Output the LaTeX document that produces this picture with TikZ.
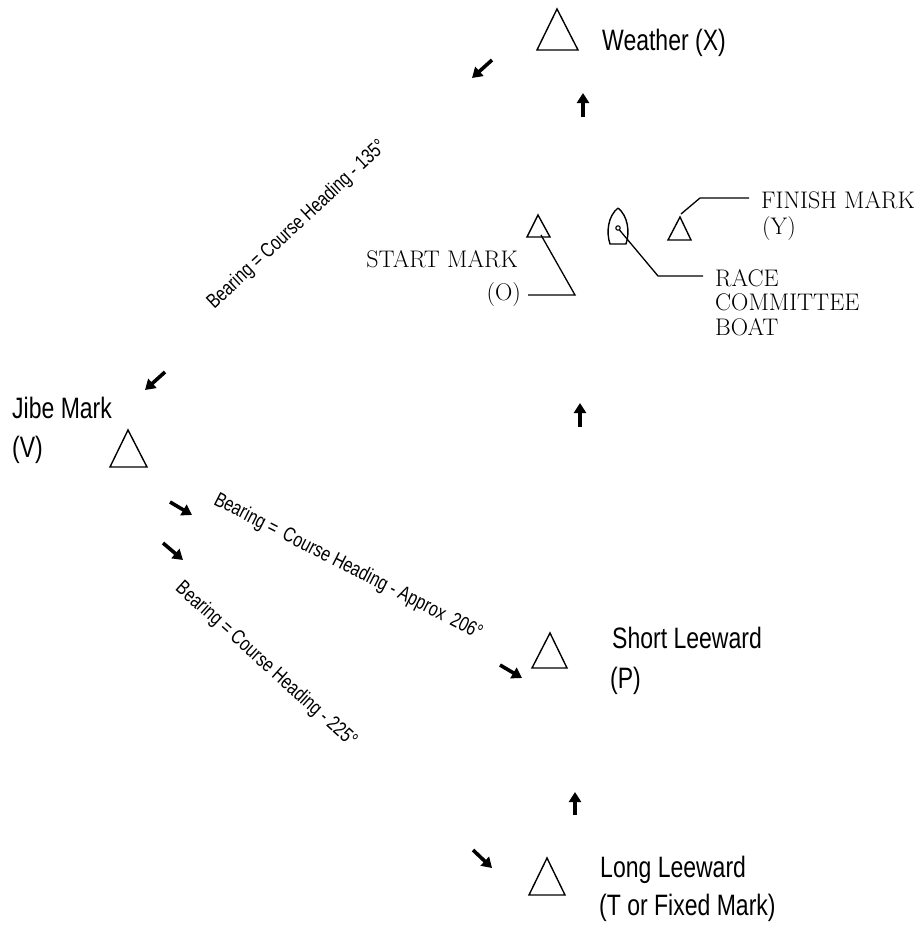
\documentclass[tikz,border=0pt]{standalone}
\usepackage{fontspec}
\usetikzlibrary{arrows.meta}
\newfontfamily\labelfont{Liberation Sans}[FakeStretch=0.78]
\newcommand\sanslab{\labelfont\fontsize{29.5}{30}\selectfont}
\newcommand\bearlab{\labelfont\fontsize{20.5}{21}\selectfont}
\newcommand\serlab{\fontsize{24}{25}\selectfont\addfontfeatures{FakeBold=0.4}}
\begin{document}
\begin{tikzpicture}[x=1pt,y=-1pt,
  markshape/.style={draw=black,line width=1.4pt,line join=miter},
  leader/.style={draw=black,line width=1.3pt},
  bigarrow/.style={line width=3.6pt,-{Triangle[length=10pt,width=12pt]}},
  sl/.style={inner sep=0pt,font=\sanslab},
  bl/.style={inner sep=0pt,font=\bearlab},
  rl/.style={inner sep=0pt,font=\serlab}]
\useasboundingbox (0,0) rectangle (921,926);
\fill[white] (0,0) rectangle (921,926);

% marks (triangles)
\draw[markshape] (557,9) -- (537,50) -- (578,50) -- cycle;      % weather
\draw[markshape] (128,430) -- (110,467) -- (147,467) -- cycle;  % jibe
\draw[markshape] (550,633) -- (532,668) -- (567,668) -- cycle;  % short leeward
\draw[markshape] (547,858) -- (529,895) -- (565,895) -- cycle;  % long leeward
\draw[markshape] (538,215) -- (527,237) -- (550,237) -- cycle;  % start
\draw[markshape] (680,217) -- (668,240) -- (691,240) -- cycle;  % finish

% committee boat
\draw[markshape,line join=round] (618,208) .. controls (628,216) and (630,232) .. (626,244)
  -- (610,244) .. controls (606,232) and (608,216) .. (618,208);
\draw[line width=1.1pt] (618,228) circle (2.2pt);

% labels
\node[sl,anchor=base west] (weather) at (602,50) {Weather (X)};
\node[sl,anchor=base west] (jibe1) at (12,418) {Jibe Mark};
\node[sl,anchor=base west] (jibe2) at (12,457) {(V)};
\node[sl,anchor=base west] (short1) at (612,648) {Short Leeward};
\node[sl,anchor=base west] (short2) at (610,688) {(P)};
\node[sl,anchor=base west] (long1) at (600,877) {Long Leeward};
\node[sl,anchor=base west] (long2) at (599,915) {(T or Fixed Mark)};

\node[rl,anchor=base east] (start1) at (518,267) {START MARK};
\node[rl,anchor=base east] (start2) at (521,300) {(O)};
\node[rl,anchor=base west] (finish1) at (761,208) {FINISH MARK};
\node[rl,anchor=base west] (finish2) at (762,234) {(Y)};
\node[rl,anchor=base west] (race1) at (715,286) {RACE};
\node[rl,anchor=base west] (race2) at (715,310) {COMMITTEE};
\node[rl,anchor=base west] (race3) at (715,335) {BOAT};

% bearing texts
\node[bl,rotate=43] (b135) at (297,225) {Bearing = Course Heading - 135°};
\node[bl,rotate=-27] (b206) at (348,567) {Bearing =\, Course Heading - Approx\, 206°};
\node[bl,rotate=-42] (b225) at (266,665) {Bearing = Course Heading - 225°};

% leader lines
\coordinate (startin) at (541,235);
\coordinate (startel) at (575,295);
\coordinate (startend) at (528,295);
\draw[leader] (startin) -- (startel) -- (startend);
\coordinate (finin) at (681,214);
\coordinate (finel) at (700,198);
\coordinate (finend) at (749,198);
\draw[leader] (finin) -- (finel) -- (finend);
\coordinate (boatin) at (619.5,230);
\coordinate (boatel) at (658,276);
\coordinate (boatend) at (703,276);
\draw[leader] (boatin) -- (boatel) -- (boatend);

% direction arrows
\draw[bigarrow] (492,60) -- (472,78);
\draw[bigarrow] (583,117) -- (583,93);
\draw[bigarrow] (165,372) -- (145,390);
\draw[bigarrow] (580,427) -- (580,403);
\draw[bigarrow] (170,502) -- (192,515);
\draw[bigarrow] (163,543) -- (183,560);
\draw[bigarrow] (500,665) -- (522,678);
\draw[bigarrow] (575,815) -- (575,792);
\draw[bigarrow] (473,850) -- (492,868);
\end{tikzpicture}
\end{document}
